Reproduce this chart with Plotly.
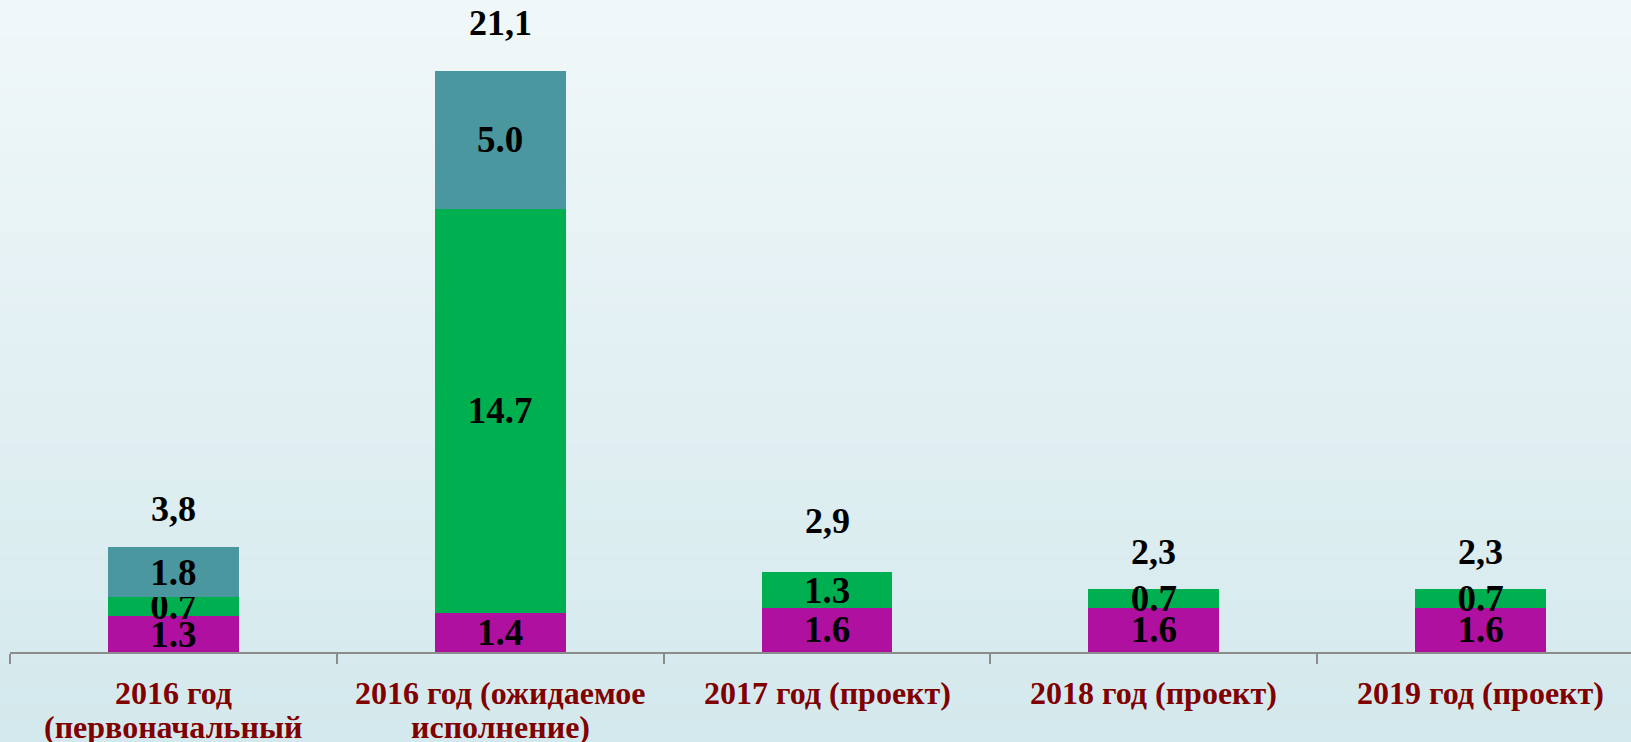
import plotly.graph_objects as go

categories = [
    "2016 год<br>(первоначальный",
    "2016 год (ожидаемое<br>исполнение)",
    "2017 год (проект)",
    "2018 год (проект)",
    "2019 год (проект)",
]
series_magenta = [1.3, 1.4, 1.6, 1.6, 1.6]
series_green = [0.7, 14.7, 1.3, 0.7, 0.7]
series_teal = [1.8, 5.0, None, None, None]
totals = [3.8, 21.1, 2.9, 2.3, 2.3]
total_offsets = [38, 48, 51, 37, 37]

W, H = 1631, 742
FONT = "Liberation Serif"

fig = go.Figure()
for vals, color in [(series_magenta, "#B0109F"), (series_green, "#00B050"), (series_teal, "#4A979F")]:
    fig.add_trace(go.Bar(
        x=categories, y=vals,
        marker=dict(color=color, line=dict(width=0)),
        texttemplate="<b>%{y:.1f}</b>",
        textposition="inside", insidetextanchor="middle",
        textangle=0, constraintext="none",
        textfont=dict(family=FONT, size=37, color="black"),
        cliponaxis=False, showlegend=False, hoverinfo="skip",
    ))

for cat, tot, off in zip(categories, totals, total_offsets):
    fig.add_annotation(
        x=cat, y=tot, xref="x", yref="y",
        text="<b>" + f"{tot:.1f}".replace(".", ",") + "</b>",
        showarrow=False, yshift=off, yanchor="middle",
        font=dict(family=FONT, size=36, color="black"),
    )

# category labels (line by line to control line spacing)
for cat in categories:
    for j, line in enumerate(cat.split("<br>")):
        fig.add_annotation(
            x=cat, y=0, xref="x", yref="y",
            text="<b>" + line + "</b>",
            showarrow=False, yshift=-(41 + j * 34), yanchor="middle",
            font=dict(family=FONT, size=32, color="#800000"),
        )

# background gradient
n = 60
top = (0xF0, 0xF7, 0xF9)
bot = (0xD4, 0xE9, 0xED)
y0p = -90 / 652
for i in range(n):
    t = i / (n - 1)
    c = tuple(round(top[k] + (bot[k] - top[k]) * t) for k in range(3))
    ya = 1 - (1 - y0p) * i / n
    yb = 1 - (1 - y0p) * (i + 1) / n
    fig.add_shape(type="rect", xref="paper", yref="paper",
                  x0=-0.02, x1=1.02, y0=yb - 0.002, y1=ya + 0.002,
                  fillcolor="rgb(%d,%d,%d)" % c, line=dict(width=0), layer="below")

fig.update_layout(
    width=W, height=H,
    margin=dict(l=10, r=0, t=0, b=90),
    barmode="stack", bargap=0.6,
    paper_bgcolor="#D8ECEF", plot_bgcolor="rgba(0,0,0,0)",
    hovermode=False,
    xaxis=dict(
        type="category", range=[-0.5, 4.46], automargin=False,
        tickson="boundaries", ticks="outside", ticklen=10, tickwidth=2,
        tickcolor="#8C8C8C", showline=True, linecolor="#8C8C8C", linewidth=2,
        showgrid=False, showticklabels=False,
    ),
    yaxis=dict(visible=False, range=[0, 23.67], showgrid=False, zeroline=False,
               automargin=False),
)

fig.write_html(
    "out.html",
    config={"displayModeBar": False},
    post_script="document.body.style.margin='0';document.body.style.overflow='hidden';",
)
